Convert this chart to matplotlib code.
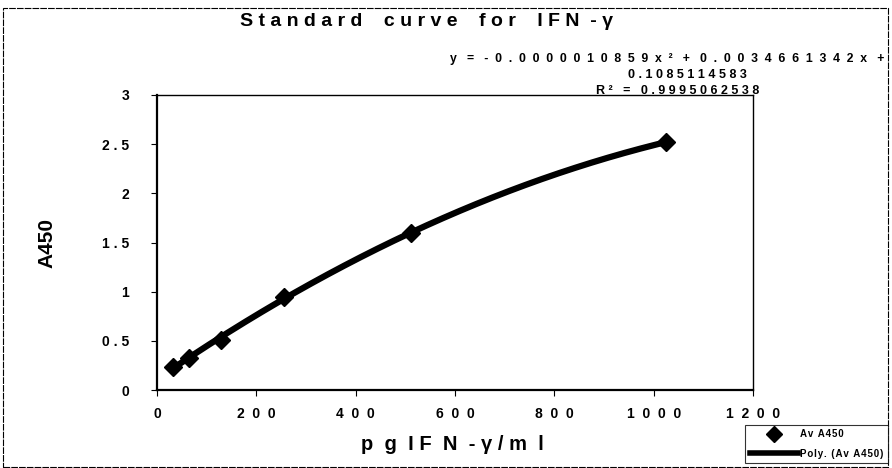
import numpy as np
import matplotlib
matplotlib.use("Agg")
import matplotlib.pyplot as plt
from matplotlib.lines import Line2D
from matplotlib.patches import Rectangle

# Data
conc = [32, 64, 128, 256, 512, 1024]          # pg IFN-γ/ml
a450 = [0.235, 0.325, 0.51, 0.945, 1.60, 2.52]  # Av A450

x_ticks = [0, 200, 400, 600, 800, 1000, 1200]
x_tick_labels = ["0", "2  0  0", "4  0  0", "6  0  0", "8  0  0", "1  0  0  0", "1  2  0  0"]
y_ticks = [0, 0.5, 1, 1.5, 2, 2.5, 3]
y_tick_labels = ["0", "0 . 5", "1", "1 . 5", "2", "2 . 5", "3"]


def spaced(s, char_sep="  ", word_sep="   "):
    return word_sep.join(char_sep.join(w) for w in s.split(" "))


title = "S t a n d a r d    c u r v e    f o r    I F N  - γ"
eq_line1 = spaced("y = -0.0000010859x² + 0.0034661342x +", "  ", "   ")
eq_line2 = spaced("0.1085114583", " ", "   ")
eq_line3 = spaced("R² = 0.9995062538", " ", "   ")
xlabel = "p  g  I F  N  - γ / m  l"
ylabel = "A450"
HAIR = "\u200a"
leg1 = HAIR.join("Av A450")
leg2 = HAIR.join("Poly. (Av A450)")

plt.rcParams['font.family'] = ['Liberation Sans', 'DejaVu Sans']

W, H = 892, 468
fig = plt.figure(figsize=(W / 100, H / 100), dpi=100)

# outer border
fig.patches.append(Rectangle((3 / W, 0.002), (885 / W), 1 - 8 / H - 0.002,
                             transform=fig.transFigure, fill=False,
                             edgecolor='black', lw=0.8, linestyle=(0, (6, 1))))

left, right, top, bottom = 157, 753, 95, 390
ax = fig.add_axes([left / W, 1 - bottom / H, (right - left) / W, (bottom - top) / H])

# polynomial trendline
coef = np.polyfit(conc, a450, 2)
xs = np.linspace(min(conc), max(conc), 300)
ax.plot(xs, np.polyval(coef, xs), color='black', lw=4.5, solid_capstyle='round', zorder=2)
ax.plot(conc, a450, linestyle='none', marker='D', markersize=9, color='black', zorder=3)

ax.set_xlim(0, 1200)
ax.set_ylim(0, 3)
ax.set_xticks(x_ticks)
ax.set_xticklabels(x_tick_labels, fontsize=10, fontweight='bold')
ax.set_yticks(y_ticks)
ax.set_yticklabels(y_tick_labels, fontsize=10, fontweight='bold')
ax.tick_params(axis='x', direction='out', length=4, width=0.8, pad=8)
ax.tick_params(axis='y', direction='out', length=4, width=0.8, pad=16)

for s in ['left', 'bottom']:
    ax.spines[s].set_linewidth(1.6)
for s in ['top', 'right']:
    ax.spines[s].set_linewidth(1.0)
    ax.spines[s].set_linestyle((0, (3, 1)))

fig.text(426 / W, 1 - 22 / H, title, ha='center', va='center', fontsize=14, fontweight='bold')
fig.text(667 / W, 1 - 62 / H, eq_line1, ha='center', va='baseline', fontsize=8.8, fontweight='bold')
fig.text(687 / W, 1 - 78 / H, eq_line2, ha='center', va='baseline', fontsize=9, fontweight='bold')
fig.text(678 / W, 1 - 94 / H, eq_line3, ha='center', va='baseline', fontsize=9, fontweight='bold')

fig.text(47 / W, 1 - 243 / H, ylabel, ha='center', va='center', rotation=90, fontsize=15, fontweight='bold')
fig.text(452 / W, 1 - 445 / H, xlabel, ha='center', va='center', fontsize=14.5, fontweight='bold')

# legend
handles = [Line2D([], [], linestyle='none', marker='D', markersize=8, color='black'),
           Line2D([], [], color='black', lw=4)]
leg = fig.legend(handles, [leg1, leg2], loc='lower right',
                 bbox_to_anchor=(888 / W, 1 - 463 / H), fontsize=7,
                 frameon=True, fancybox=False, edgecolor='black',
                 borderpad=0.45, labelspacing=1.0, handlelength=5.0, handletextpad=0.2,
                 borderaxespad=0)
leg.get_frame().set_linewidth(0.8)
for t in leg.get_texts():
    t.set_fontweight('bold')

fig.savefig("out.png", dpi=100, facecolor='white')
